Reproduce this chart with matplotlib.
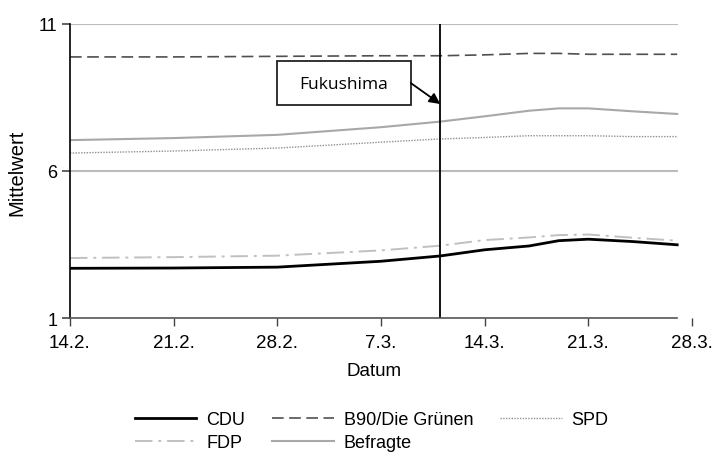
import pandas as pd
import matplotlib
matplotlib.use('Agg')
import matplotlib.pyplot as plt
import matplotlib.dates as mdates
from matplotlib.patches import Rectangle

# -----------------------
# Data
# -----------------------
dates = ['2011-02-14', '2011-02-21', '2011-02-28', '2011-03-07', '2011-03-11',
         '2011-03-14', '2011-03-17', '2011-03-19', '2011-03-21', '2011-03-24', '2011-03-27']
cdu      = [2.69, 2.70, 2.73, 2.93, 3.11, 3.32, 3.45, 3.63, 3.68, 3.60, 3.49]
b90      = [9.88, 9.88, 9.90, 9.92, 9.92, 9.95, 10.00, 10.00, 9.97, 9.97, 9.97]
spd      = [6.61, 6.68, 6.78, 6.98, 7.09, 7.14, 7.20, 7.20, 7.20, 7.17, 7.17]
fdp      = [3.04, 3.07, 3.12, 3.30, 3.46, 3.65, 3.74, 3.82, 3.84, 3.73, 3.63]
befragte = [7.05, 7.12, 7.23, 7.49, 7.68, 7.86, 8.05, 8.13, 8.13, 8.03, 7.94]

tick_dates = ['2011-02-14', '2011-02-21', '2011-02-28', '2011-03-07',
              '2011-03-14', '2011-03-21', '2011-03-28']
tick_labels = ['14.2.', '21.2.', '28.2.', '7.3.', '14.3.', '21.3.', '28.3.']
yticks = [1, 6, 11]
event_date = '2011-03-11'
event_label = 'Fukushima'

x = pd.to_datetime(dates)
xt = pd.to_datetime(tick_dates)
ev = pd.Timestamp(event_date)

plt.rcParams['font.family'] = ['Liberation Sans', 'DejaVu Sans']

fig = plt.figure(figsize=(7.12, 4.56), dpi=100)
ax = fig.add_axes([70/712, 1-319/456, 622/712, 294/456])

x0 = pd.Timestamp('2011-02-14')
x1 = pd.Timestamp('2011-03-28')
ax.set_xlim(x0, x1)
ax.set_ylim(1, 11)

# gridlines (stop before 28.3.)
frac = 41/42
for yv in [6, 11]:
    ax.axhline(yv, xmin=0, xmax=frac, color='#bbbbbb', lw=1.5, zorder=0)

# -----------------------
# Series
# -----------------------
l_cdu, = ax.plot(x, cdu, color='black', lw=2, label='CDU')
l_b90, = ax.plot(x, b90, color='#505050', lw=1.2, ls=(0, (7, 3.3)), label='B90/Die Grünen')
l_spd, = ax.plot(x, spd, color='#909090', lw=1, ls=(0, (1, 1)), label='SPD')
l_fdp, = ax.plot(x, fdp, color='#c0c0c0', lw=1.4, ls=(0, (9, 3, 1.5, 3)), label='FDP')
l_bef, = ax.plot(x, befragte, color='#a8a8a8', lw=1.5, label='Befragte')

# Fukushima marker
ax.axvline(ev, color='black', lw=1.3)
ax.add_patch(Rectangle((0.333, 0.724), 0.215, 0.150, transform=ax.transAxes,
                       fc='white', ec='#222222', lw=1.3, zorder=5))
ax.text(0.4405, 0.797, event_label, transform=ax.transAxes, ha='center', va='center',
        fontsize=12.5, family=['Open Sans', 'DejaVu Sans'], zorder=6)
ax.annotate('', xy=(ev, 8.28), xytext=(0.548, 0.799), textcoords='axes fraction',
            arrowprops=dict(arrowstyle='-|>', color='black', lw=1.3, mutation_scale=16,
                            shrinkA=0, shrinkB=0), zorder=6)

# -----------------------
# Axes styling
# -----------------------
ax.spines['top'].set_visible(False)
ax.spines['right'].set_visible(False)
ax.spines['bottom'].set_color('#555555')
ax.spines['bottom'].set_linewidth(1.2)
ax.spines['bottom'].set_bounds(mdates.date2num(x0), mdates.date2num(pd.Timestamp('2011-03-27')))
ax.spines['left'].set_linewidth(1.2)

ax.set_yticks(yticks)
ax.set_yticklabels([str(v) for v in yticks], fontsize=13)
ax.set_xticks(xt)
ax.set_xticklabels(tick_labels, fontsize=13.5)
ax.tick_params(axis='x', direction='out', length=6, width=1, color='#444444', pad=5.5)
ax.tick_params(axis='y', direction='out', length=6, width=1.3, color='#555555', pad=3)

ax.set_xlabel('Datum', fontsize=13.5)
ax.xaxis.set_label_coords((374.5-70)/622, (319-371)/294)
ax.xaxis.label.set_verticalalignment('center')
ax.set_ylabel('Mittelwert', fontsize=14.5)
ax.yaxis.set_label_coords((17-70)/622, (319-172.5)/294)
ax.yaxis.label.set_verticalalignment('center')

# legend (column-major order gives rows: CDU B90 SPD / FDP Befragte)
handles = [l_cdu, l_fdp, l_b90, l_bef, l_spd]
fig.legend(handles, [h.get_label() for h in handles], ncol=3, loc='center left',
           bbox_to_anchor=(135/712, 1-432/456), frameon=False, fontsize=13,
           handlelength=3.4, handletextpad=0.55, columnspacing=1.5,
           labelspacing=0.32, borderpad=0, borderaxespad=0)

fig.savefig('out.png', dpi=100)
